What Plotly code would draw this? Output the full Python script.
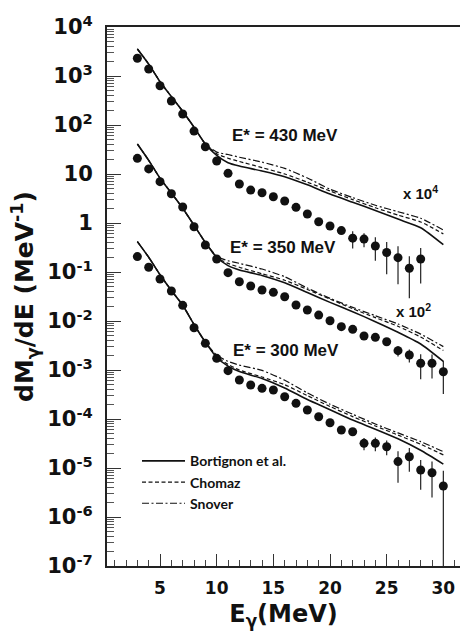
import plotly.graph_objects as go

# ---------------- data ----------------
E_430 = list(range(3, 29))
Y_430 = [2300, 1390, 634, 309, 168, 75, 36, 18.4, 10.3, 6.25, 4.7, 4.15, 3.44, 2.81,
         2.09, 1.53, 1.06, 0.87, 0.70, 0.49, 0.47, 0.34, 0.25, 0.196, 0.119, 0.184]
ERR_430 = [0] * 16 + [0.08, 0.08, 0.1, 0.19, 0.15, 0.17, 0.16, 0.14, 0.09, 0.126]

E_350 = list(range(3, 31))
Y_350 = [20.9, 12.7, 6.97, 3.96, 2.12, 0.84, 0.356, 0.184, 0.097, 0.0634, 0.0518, 0.043,
         0.0385, 0.0313, 0.0212, 0.0168, 0.0132, 0.0101, 0.00766, 0.00676, 0.00494,
         0.00464, 0.00378, 0.00248, 0.00202, 0.00137, 0.00137, 0.000922]
ERR_350 = [0] * 18 + [0.0005, 0.0006, 0.0006, 0.0005, 0.0005, 0.0006, 0.0006,
                      0.00072, 0.0007, 0.0006]

E_300 = list(range(3, 31))
Y_300 = [0.206, 0.125, 0.072, 0.041, 0.0209, 0.0073, 0.0035, 0.00173, 0.00097, 0.000625,
         0.000494, 0.000423, 0.000391, 0.000285, 0.000209, 0.000153, 0.000111, 8.4e-5,
         5.97e-5, 5.5e-5, 3.19e-5, 3.19e-5, 2.72e-5, 1.35e-5, 1.7e-5, 9.1e-6, 8.0e-6, 4.3e-6]
ERR_300 = [0] * 18 + [5e-6, 6e-6, 9e-6, 1e-5, 9e-6, 8.5e-6, 8.6e-6, 5.5e-6, 5.5e-6, 4.5e-6]

# model curves
E_LINE = [3, 4, 5, 6, 7, 8, 9, 10, 11, 12, 14, 16, 18, 20, 22, 24, 26, 28, 30]

LOW_430 = [3560, 1750, 766, 380, 190, 90, 41]
BORT_430 = LOW_430 + [24, 17, 14.5, 11.5, 8.8, 6.0, 3.9, 2.65, 1.8, 1.2, 0.8, 0.36]
CHOM_430 = LOW_430 + [26, 21, 18, 13.5, 10, 6.8, 4.5, 3.0, 2.05, 1.45, 1.05, 0.6]
SNOV_430 = LOW_430 + [28, 25, 22, 17.5, 13, 8.3, 4.9, 3.3, 2.3, 1.7, 1.25, 0.72]

LOW_350 = [41, 19, 8.2, 4.1, 2.0, 0.9, 0.40]
BORT_350 = LOW_350 + [0.2, 0.135, 0.11, 0.085, 0.06, 0.038, 0.024, 0.0155, 0.0097, 0.0059, 0.0034, 0.0015]
CHOM_350 = LOW_350 + [0.2, 0.15, 0.125, 0.092, 0.068, 0.044, 0.028, 0.0178, 0.0117, 0.0078, 0.0047, 0.0025]
SNOV_350 = LOW_350 + [0.21, 0.17, 0.15, 0.115, 0.08, 0.047, 0.029, 0.019, 0.0128, 0.0087, 0.0054, 0.003]

LOW_300 = [0.417, 0.2, 0.088, 0.042, 0.021, 0.0085, 0.0037]
BORT_300 = LOW_300 + [0.0018, 0.0012, 0.00093, 0.00067, 0.00043, 0.00025, 0.000155, 9.5e-5, 6.2e-5, 3.95e-5, 2.3e-5, 1.2e-5]
CHOM_300 = LOW_300 + [0.0019, 0.0013, 0.001, 0.00072, 0.0005, 0.0003, 0.00018, 0.000112, 7.2e-5, 4.7e-5, 3.05e-5, 1.85e-5]
SNOV_300 = LOW_300 + [0.002, 0.0015, 0.00126, 0.00098, 0.00062, 0.00034, 0.0002, 0.000125, 7.9e-5, 5.2e-5, 3.45e-5, 2.15e-5]

MODEL_NAMES = ["Bortignon et al.", "Chomaz", "Snover"]
SERIES_LABELS = ["E* = 430 MeV", "E* = 350 MeV", "E* = 300 MeV"]
SCALE_LABELS = ["x 10<sup>4</sup>", "x 10<sup>2</sup>"]

Y_TICKVALS = [1e-7, 1e-6, 1e-5, 1e-4, 1e-3, 1e-2, 1e-1, 1, 10, 100, 1e3, 1e4]
Y_TICKTEXT = ["10<sup>-7</sup>", "10<sup>-6</sup>", "10<sup>-5</sup>", "10<sup>-4</sup>",
              "10<sup>-3</sup>", "10<sup>-2</sup>", "10<sup>-1</sup>", "1", "10",
              "10<sup>2</sup>", "10<sup>3</sup>", "10<sup>4</sup>"]

# ---------------- figure ----------------
fig = go.Figure()
DASHES = ["solid", "4px,2.5px", "7px,2.5px,2px,2.5px"]
BLACK = "#111111"

models = [(BORT_430, CHOM_430, SNOV_430), (BORT_350, CHOM_350, SNOV_350), (BORT_300, CHOM_300, SNOV_300)]
for si, group in enumerate(models):
    for mi, ys in enumerate(group):
        fig.add_trace(go.Scatter(
            x=E_LINE, y=ys, mode="lines", name=MODEL_NAMES[mi],
            line=dict(color=BLACK, width=1.6 if mi == 0 else 1.2, dash=DASHES[mi], shape="spline", smoothing=0.6),
            showlegend=(si == 0), legendrank=mi + 1,
        ))

for xs, ys, es in [(E_430, Y_430, ERR_430), (E_350, Y_350, ERR_350), (E_300, Y_300, ERR_300)]:
    fig.add_trace(go.Scatter(
        x=xs, y=ys, mode="markers", showlegend=False,
        marker=dict(color=BLACK, size=9, line=dict(width=0)),
        error_y=dict(type="data", array=es, symmetric=True, color="#222222", thickness=1.2, width=0),
    ))

ann_font = dict(family="Liberation Sans, Arial", size=17, color=BLACK, weight="bold")
ann_pos = [(16.07, 1.796), (15.81, -0.51), (16.12, -2.592)]
for txt, (ax, ay) in zip(SERIES_LABELS, ann_pos):
    fig.add_annotation(x=ax, y=ay, text=txt, showarrow=False, xanchor="center", yanchor="middle", font=ann_font)
for txt, (ax, ay) in zip(SCALE_LABELS, [(27.94, 0.62), (27.41, -1.79)]):
    fig.add_annotation(x=ax, y=ay, text=txt, showarrow=False, xanchor="center", yanchor="middle",
                       font=dict(family="Liberation Sans, Arial", size=15, color=BLACK, weight="bold"))

tick_font = dict(family="DejaVu Sans", color=BLACK, weight="bold")
fig.update_layout(
    width=460, height=641,
    margin=dict(l=107, r=0, t=27, b=75),
    paper_bgcolor="white", plot_bgcolor="white",
    showlegend=True,
    legend=dict(x=0.085, y=0.224, xanchor="left", yanchor="top", bgcolor="rgba(0,0,0,0)",
                font=dict(family="Lato", size=14, color=BLACK, weight="bold"),
                itemwidth=43, tracegroupgap=0, traceorder="normal"),
    xaxis=dict(
        range=[0.32, 31.47], showgrid=False, zeroline=False,
        showline=True, linecolor="#222222", linewidth=2, mirror=True,
        tickmode="linear", tick0=0, dtick=5, ticks="inside", ticklen=12, tickwidth=1.2, tickcolor="#333333",
        minor=dict(dtick=1, tick0=0, ticks="inside", ticklen=6, tickwidth=1, tickcolor="#444444"),
        tickfont=dict(size=17, **tick_font), ticklabelstandoff=6,
        title=dict(text="E<sub>γ</sub>(MeV)", font=dict(family="DejaVu Sans", size=24, color=BLACK, weight="bold"),
                   standoff=8),
    ),
    yaxis=dict(
        type="log", range=[-7, 4], showgrid=False, zeroline=False,
        showline=True, linecolor="#222222", linewidth=2, mirror=False,
        tickmode="array", tickvals=Y_TICKVALS, ticktext=Y_TICKTEXT,
        ticks="inside", ticklen=14, tickwidth=1.2, tickcolor="#333333",
        minor=dict(dtick="D1", ticks="inside", ticklen=7, tickwidth=1, tickcolor="#555555"),
        tickfont=dict(size=21, **tick_font), ticklabelstandoff=8,
        title=dict(text="dM<sub>γ</sub>/dE (MeV<sup>-1</sup>)",
                   font=dict(family="DejaVu Sans", size=25, color=BLACK, weight="bold"), standoff=6),
    ),
)

fig.write_html("out.html")
